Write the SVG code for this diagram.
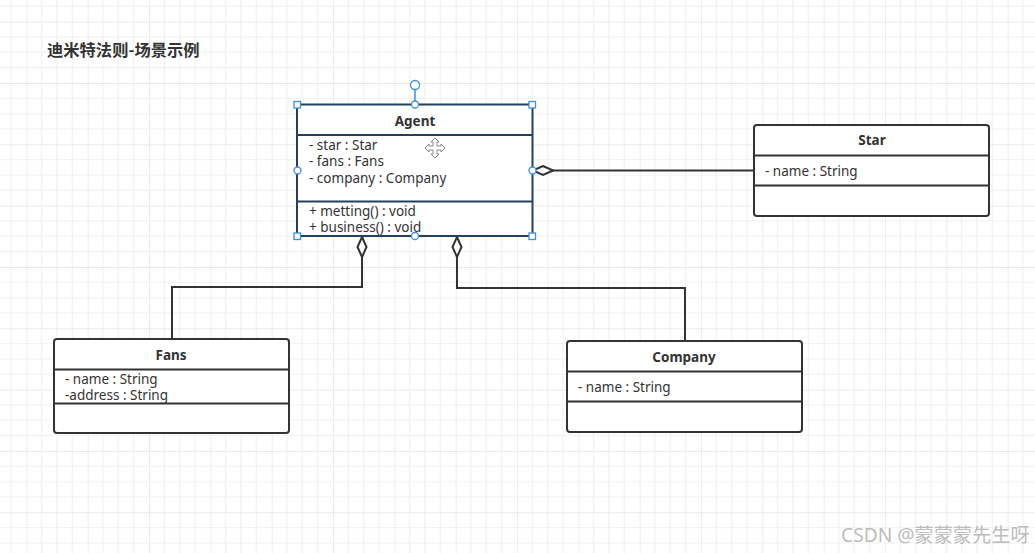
<svg xmlns="http://www.w3.org/2000/svg" width="1035" height="553" viewBox="0 0 1035 553">
<style>
.box{fill:#ffffff;stroke:#333333;stroke-width:2}
.sep{stroke:#333333;stroke-width:2}
.hd{font-family:"Noto Sans","Liberation Sans","Noto Sans CJK SC",sans-serif;font-size:13.5px;font-weight:bold;fill:#333333;text-anchor:middle}
.at{font-family:"Noto Sans","Liberation Sans","Noto Sans CJK SC",sans-serif;font-size:13.5px;fill:#333333}
.conn{fill:none;stroke:#333333;stroke-width:2}
.hdl{fill:#ffffff;stroke:#3d8fe0;stroke-width:1.3}
</style>
<defs>
<pattern id="grid" patternUnits="userSpaceOnUse" x="26.33" y="21.67" width="61.33" height="61.33">
<path d="M15.33 0V61.33M30.67 0V61.33M46 0V61.33M0 15.33H61.33M0 30.67H61.33M0 46H61.33" stroke="#f1f1f1" stroke-width="1.2" fill="none"/>
<path d="M0 0V61.33M0 0H61.33" stroke="#e4e4e4" stroke-width="1.4" fill="none"/>
</pattern>
<marker id="diamond" markerUnits="userSpaceOnUse" viewBox="0 0 22 12" refX="1" refY="6" markerWidth="22" markerHeight="12" orient="auto">
<path d="M1 6 L11 1.5 L21 6 L11 10.5 Z" fill="#ffffff" stroke="#333333" stroke-width="2"/>
</marker>
</defs>
<rect width="1035" height="553" fill="#ffffff"/>
<rect width="1035" height="553" fill="url(#grid)"/>
<text x="47" y="56" font-family="'Noto Sans CJK SC',sans-serif" font-size="16.3" font-weight="bold" fill="#333333">迪米特法则-场景示例</text>
<g id="connectors">
<path class="conn" d="M533 170.5H754" marker-start="url(#diamond)"/>
<path class="conn" d="M362 237V287H172V339" marker-start="url(#diamond)"/>
<path class="conn" d="M457 237V288H685V341" marker-start="url(#diamond)"/>
</g>
<g id="agent">
<rect x="297" y="104.5" width="235.5" height="131.5" fill="#ffffff" stroke="#23405f" stroke-width="2"/>
<line x1="297" y1="135" x2="532.5" y2="135" stroke="#23405f" stroke-width="2"/>
<line x1="297" y1="201.5" x2="532.5" y2="201.5" stroke="#23405f" stroke-width="2"/>
<text class="hd" x="415" y="126">Agent</text>
<text class="at" x="309" y="149.5">- star : Star</text>
<text class="at" x="309" y="166">- fans : Fans</text>
<text class="at" x="309" y="182.5">- company : Company</text>
<text class="at" x="309" y="215.5">+ metting() : void</text>
<text class="at" x="309" y="232">+ business() : void</text>
<line x1="415" y1="90" x2="415" y2="104" stroke="#3d8fe0" stroke-width="1.5"/>
<circle class="hdl" cx="415" cy="85" r="4.5"/>
<rect class="hdl" x="294" y="101.5" width="6.5" height="6.5"/>
<rect class="hdl" x="529" y="101.5" width="6.5" height="6.5"/>
<rect class="hdl" x="294" y="233" width="6.5" height="6.5"/>
<rect class="hdl" x="529" y="233" width="6.5" height="6.5"/>
<circle class="hdl" cx="415" cy="104.5" r="3.5"/>
<circle class="hdl" cx="415" cy="236" r="3.5"/>
<circle class="hdl" cx="297.5" cy="170.5" r="3.5"/>
<circle class="hdl" cx="532.5" cy="170.5" r="3.5"/>
<path d="M435 138 L439 142 L437 142 L437 146 L441 146 L441 144 L445 148 L441 152 L441 150 L437 150 L437 154 L439 154 L435 158 L431 154 L433 154 L433 150 L429 150 L429 152 L425 148 L429 144 L429 146 L433 146 L433 142 L431 142 Z" fill="#ffffff" stroke="#888888" stroke-width="1"/>
</g>
<g id="star">
<rect class="box" x="754" y="125" width="235" height="91" rx="3"/>
<line class="sep" x1="754" y1="155.5" x2="989" y2="155.5"/>
<line class="sep" x1="754" y1="185.5" x2="989" y2="185.5"/>
<text class="hd" x="872" y="145">Star</text>
<text class="at" x="765" y="176">- name : String</text>
</g>
<g id="fans">
<rect class="box" x="54" y="339" width="235" height="94" rx="3"/>
<line class="sep" x1="54" y1="369.5" x2="289" y2="369.5"/>
<line class="sep" x1="54" y1="403.5" x2="289" y2="403.5"/>
<text class="hd" x="171" y="360">Fans</text>
<text class="at" x="65" y="383.5">- name : String</text>
<text class="at" x="65" y="400">-address : String</text>
</g>
<g id="company">
<rect class="box" x="567" y="341" width="235" height="91" rx="3"/>
<line class="sep" x1="567" y1="371.5" x2="802" y2="371.5"/>
<line class="sep" x1="567" y1="401.5" x2="802" y2="401.5"/>
<text class="hd" x="684" y="362">Company</text>
<text class="at" x="578" y="391.5">- name : String</text>
</g>
<text x="841" y="542" font-family="'Noto Sans','Noto Sans CJK SC',sans-serif" font-size="19.2" fill="#bdbdbd">CSDN @蒙蒙蒙先生呀</text>
</svg>
